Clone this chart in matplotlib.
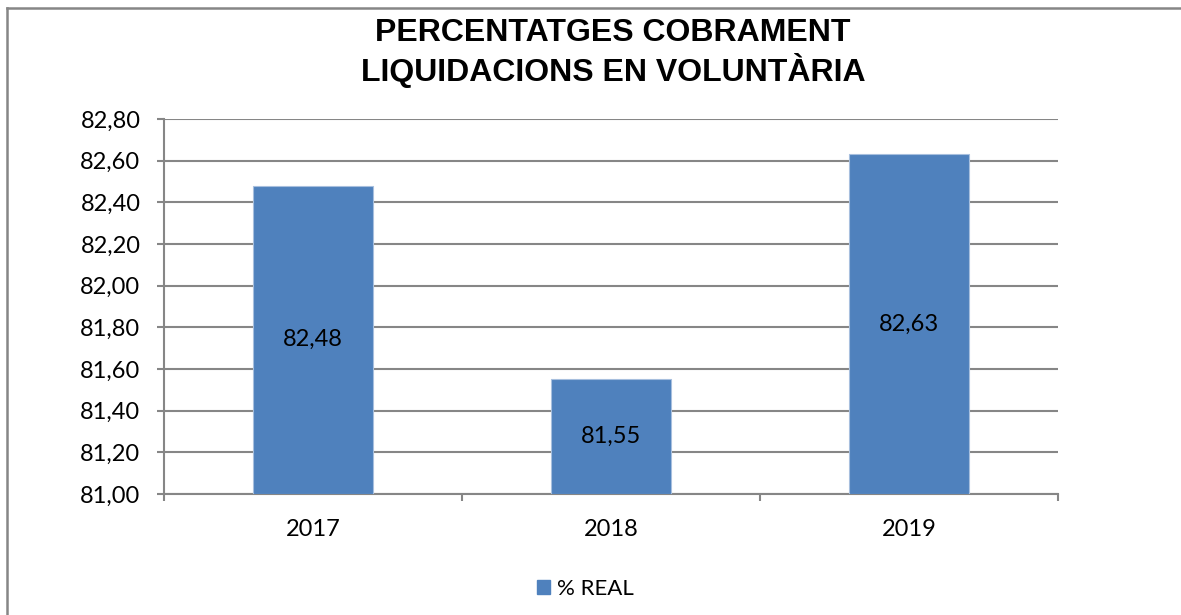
import numpy as np
import matplotlib.pyplot as plt
from matplotlib.lines import Line2D
from matplotlib.patches import Patch

# 数据
years = ['2017', '2018', '2019']
real_pct = [82.48, 81.55, 82.63]
y_ticks = [81.00, 81.20, 81.40, 81.60, 81.80, 82.00, 82.20, 82.40, 82.60, 82.80]

base = 81.0
grey = '#868686'
bar_color = '#4F81BD'

fig = plt.figure(figsize=(11.81, 6.15), dpi=100)
ax = fig.add_axes([164 / 1181, 1 - 494 / 615, (1058 - 164) / 1181, (494 - 119) / 615])

x = np.arange(len(years))
heights = [v - base for v in real_pct]
bars = ax.bar(x, heights, bottom=base, width=0.4, color=bar_color,
              edgecolor='#A7BFDE', linewidth=0.8, zorder=3, label='% REAL')

# 柱内标签（放在柱子中间）
for xi, v in zip(x, real_pct):
    ax.text(xi, (base + v) / 2, f'{v:.2f}'.replace('.', ','), ha='center', va='center',
            fontsize=17, family='Lato', color='black', zorder=4)

ax.set_xlim(-0.5, len(years) - 0.5)
ax.set_ylim(81.0, 82.8)
ax.set_yticks(y_ticks)
ax.set_yticklabels([f'{t:.2f}'.replace('.', ',') for t in y_ticks], fontsize=17, family='Lato')
ax.set_xticks(x)
ax.set_xticklabels(years, fontsize=17, family='Lato')
ax.set_xticks(np.arange(len(years) + 1) - 0.5, minor=True)
ax.tick_params(axis='x', which='major', length=0, pad=18)
ax.tick_params(axis='x', which='minor', length=5, width=1.5, color=grey, direction='out')
ax.tick_params(axis='y', length=5, width=1.5, color=grey, direction='out', pad=12)

ax.grid(axis='y', color=grey, linewidth=1.5, zorder=0)
for side in ['top', 'right']:
    ax.spines[side].set_visible(False)
for side in ['left', 'bottom']:
    ax.spines[side].set_color(grey)
    ax.spines[side].set_linewidth(1.5)

# 标题
fig.text(613 / 1181, 1 - 53 / 615, 'PERCENTATGES COBRAMENT\nLIQUIDACIONS EN VOLUNTÀRIA',
         ha='center', va='center', fontsize=23, fontweight='bold',
         family='Liberation Sans', linespacing=1.18)

# 图例
fig.legend(handles=[Patch(color=bar_color, label='% REAL')], loc='center',
           bbox_to_anchor=(585 / 1181, 1 - 589 / 615), frameon=False,
           prop={'family': 'Lato', 'size': 16}, handlelength=0.6, handleheight=0.6,
           handletextpad=0.3)

# 外框（只看到左边和上边）
fig.add_artist(Line2D([7 / 1181, 7 / 1181], [0, 1 - 8 / 615], color=grey, linewidth=1.8))
fig.add_artist(Line2D([7 / 1181, 1], [1 - 8 / 615, 1 - 8 / 615], color=grey, linewidth=1.8))

fig.savefig('out.png', dpi=100)
